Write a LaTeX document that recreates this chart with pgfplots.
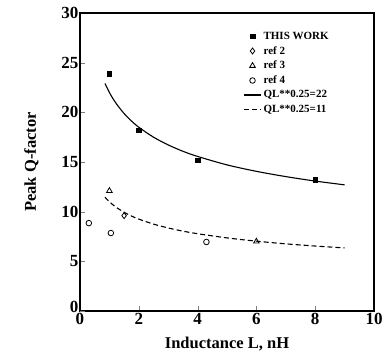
\documentclass[border=0pt]{standalone}
\usepackage{fontspec}
\setmainfont{Liberation Serif}
\usepackage{pgfplots}
\pgfplotsset{compat=1.18}
\begin{document}
\begin{tikzpicture}
\begin{axis}[name=ax,
  width=294pt, height=298pt, scale only axis,
  xmin=0, xmax=10, ymin=0, ymax=30,
  xtick={0,2,...,10}, ytick={5,10,...,30},
  extra y ticks={0},
  extra y tick style={yticklabel style={yshift=4pt}},
  tick align=inside, xtick pos=left, ytick pos=left,
  major tick length=5pt,
  axis line style={line width=1.3pt},
  /pgf/number format/assume math mode=true,
  tick label style={font=\fontsize{17}{17}\selectfont\bfseries},
  xticklabel style={yshift=1pt},
  yticklabel style={xshift=2pt},
  xlabel={Inductance L, nH}, ylabel={Peak Q-factor},
  label style={font=\fontsize{16.5}{16.5}\selectfont\bfseries},
  xlabel style={yshift=-5pt},
  ylabel style={yshift=16pt},
  legend style={draw=none, fill=none, at={(0.545,0.95)}, anchor=north west,
    font=\fontsize{11}{11.5}\selectfont\bfseries, row sep=1.5pt},
  legend cell align=left,
]
\addplot[only marks, mark=square*, mark size=2.2pt, black] coordinates {
  (1,23.9) (2,18.2) (4,15.2) (8,13.2)};
\addlegendentry{THIS WORK}
\addplot[only marks, mark=diamond, mark size=3pt, black, thick] coordinates {
  (1.5,9.6)};
\addlegendentry{ref 2}
\addplot[only marks, mark=triangle, mark size=3.2pt, black, thick] coordinates {
  (1,12.1) (6,7.0)};
\addlegendentry{ref 3}
\addplot[only marks, mark=o, mark size=2.8pt, black, thick] coordinates {
  (0.3,8.85) (1.05,7.85) (4.3,6.95)};
\addlegendentry{ref 4}
\addplot[black, line width=1.1pt, smooth] coordinates {
  (0.85,22.91) (0.9,22.59) (1,22.0) (1.1,21.48) (1.25,20.81) (1.5,19.88)
  (1.75,19.13) (2,18.50) (2.5,17.50) (3,16.72) (3.5,16.08) (4,15.56)
  (5,14.71) (6,14.06) (7,13.53) (8,13.08) (9,12.70)};
\addlegendentry{QL**0.25=22}
\addplot[black, line width=1.1pt, dash pattern=on 5pt off 3pt, smooth] coordinates {
  (0.85,11.46) (0.9,11.29) (1,11.0) (1.1,10.74) (1.25,10.40) (1.5,9.94)
  (1.75,9.56) (2,9.25) (2.5,8.75) (3,8.36) (3.5,8.04) (4,7.78)
  (5,7.36) (6,7.03) (7,6.76) (8,6.54) (9,6.35)};
\addlegendentry{QL**0.25=11}
\end{axis}
\pgfresetboundingbox
\path[use as bounding box] ([shift={(-80pt,-40pt)}]ax.south west) rectangle ([shift={(11pt,13pt)}]ax.north east);
\end{tikzpicture}
\end{document}
